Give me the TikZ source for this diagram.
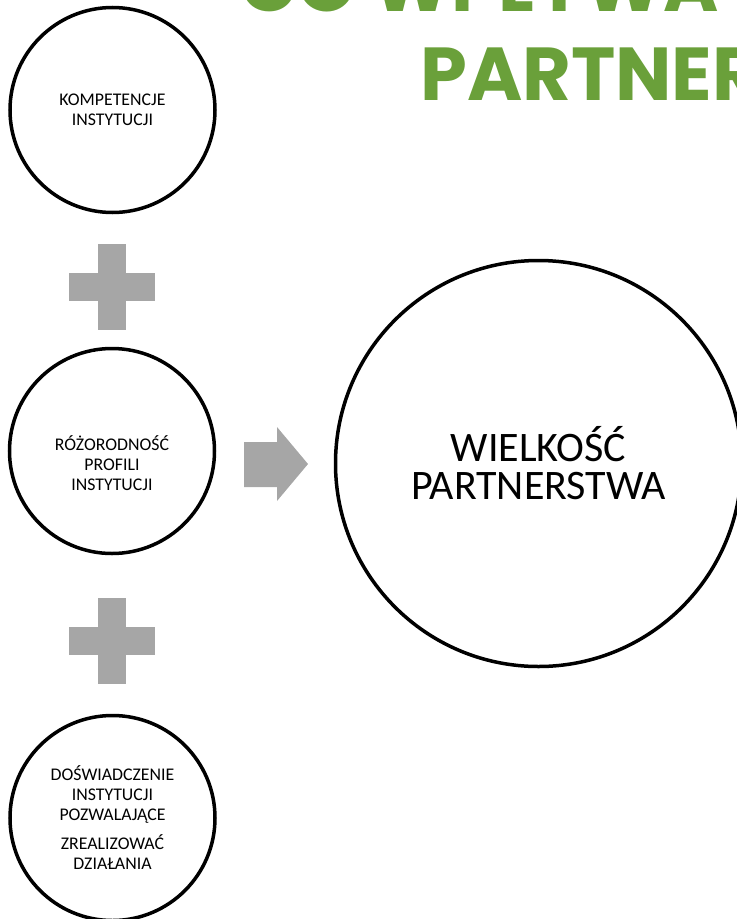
\documentclass[tikz,border=0pt]{standalone}
\usepackage{fontspec}
\setmainfont{Carlito}
\newfontfamily\fuentetitulo{Poppins}
\usetikzlibrary{calc}
\definecolor{figVerdeTitulo}{RGB}{106,160,58}
\definecolor{figGrisSigno}{RGB}{166,166,166}
\tikzset{
  circulo/.style={
    circle, draw=black, line width=3.5bp, minimum size=205bp,
    inner sep=0pt, align=center, font=\fontsize{17.8bp}{20bp}\selectfont
  },
  circulog/.style={
    circle, draw=black, line width=3.5bp, minimum size=406bp,
    inner sep=0pt, align=center, font=\fontsize{42bp}{38bp}\selectfont
  },
  textoc/.style={
    inner sep=0pt, align=center, font=\fontsize{17.8bp}{20bp}\selectfont
  },
  titulo/.style={
    anchor=base west, inner sep=0pt, text=figVerdeTitulo,
    font=\fuentetitulo\bfseries\fontsize{75bp}{88bp}\selectfont
  },
  signo/.style={fill=figGrisSigno, draw=none},
  signomas/.pic={
    \fill[signo] (-14,-43) rectangle (14,43);
    \fill[signo] (-43,-14) rectangle (43,14);
  }
}
\begin{document}
\begin{tikzpicture}[x=1bp,y=-1bp]
  \useasboundingbox (0,0) rectangle (737,919);
  \clip (0,0) rectangle (737,919);

  % titulo (cortado por el borde)
  \node[titulo] (tit1) at (240,11) {CO WPŁYWA NA};
  \node[titulo] (tit2) at (420,100) {PARTNERSTWA};

  % factores
  \node[circulo] (komp) at (112.5,110) {KOMPETENCJE\\INSTYTUCJI};
  \node[circulo] (rozn) at (112,451) {};
  \node[textoc] (rozntxt) at ($(rozn.center)+(0,12)$) {RÓŻORODNOŚĆ\\PROFILI\\INSTYTUCJI};
  \node[circulo] (dosw) at (112.5,818) {DOŚWIADCZENIE\\INSTYTUCJI\\POZWALAJĄCE\\[9bp]ZREALIZOWAĆ\\DZIAŁANIA};

  \pic at (112,287) {signomas};
  \pic at (112,641) {signomas};

  % wynik
  \node[circulog] (wielk) at (538.5,463.5) {WIELKOŚĆ\\PARTNERSTWA};
  \fill[signo] (244,442) -- (277,442) -- (277,427) -- (308,464)
    -- (277,501) -- (277,487) -- (244,487) -- cycle;
\end{tikzpicture}
\end{document}
